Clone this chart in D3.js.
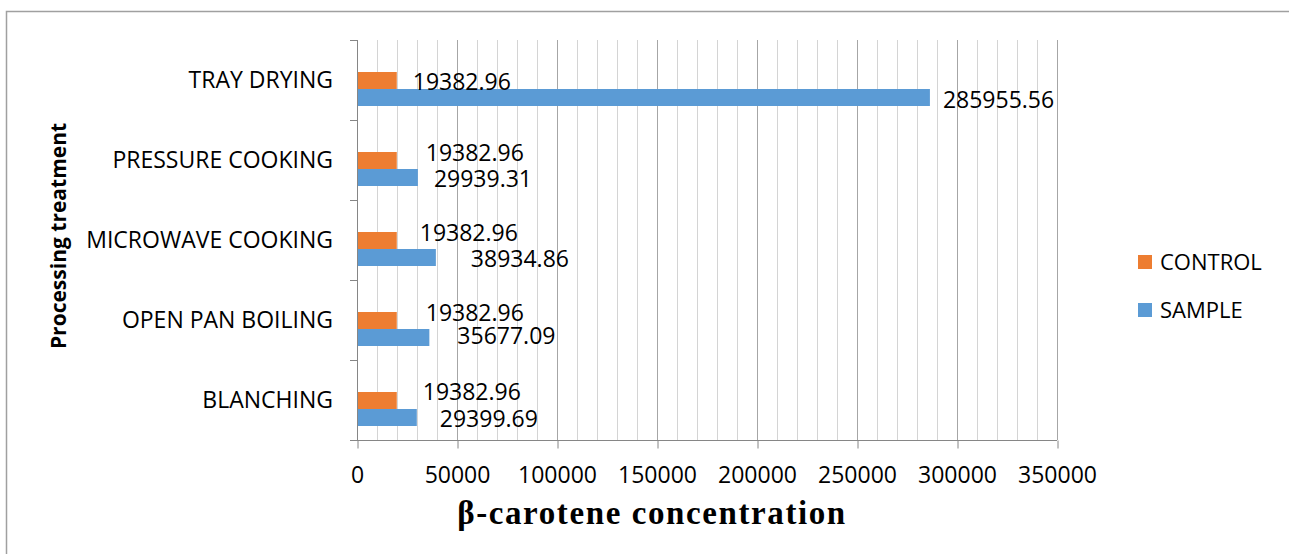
<!DOCTYPE html>
<html>
<head>
<meta charset="utf-8">
<script src="https://cdn.jsdelivr.net/npm/d3@7"></script>
<style>
  body { margin: 0; background: #ffffff; }
  svg { display: block; }
</style>
</head>
<body>
<svg id="chart" width="1289" height="554"></svg>
<script>
// Beta-carotene content by processing treatment
const categories = ["TRAY DRYING", "PRESSURE COOKING", "MICROWAVE COOKING", "OPEN PAN BOILING", "BLANCHING"];
const seriesNames = ["CONTROL", "SAMPLE"];
const controlValues = [19382.96, 19382.96, 19382.96, 19382.96, 19382.96];
const sampleValues = [285955.56, 29939.31, 38934.86, 35677.09, 29399.69];
const xTickValues = [0, 50000, 100000, 150000, 200000, 250000, 300000, 350000];

// hand-placed data label nudges (px from bar end / bar centre)
const controlLabelNudge = [[17, 1.5], [30, -7.5], [24, -7.5], [30, -7.5], [27, -8.5]];
const sampleLabelNudge = [[14, 2], [17, 1], [36, 1], [29, -2], [24, 1]];

const colors = { CONTROL: "#ED7D31", SAMPLE: "#5B9BD5" };
const labelFont = "'Open Sans', 'DejaVu Sans', sans-serif";

const svg = d3.select("#chart");

// outer chart frame
svg.append("rect")
  .attr("x", 6.5).attr("y", 11.5)
  .attr("width", 1300).attr("height", 600)
  .attr("fill", "none").attr("stroke", "#a0a0a0").attr("stroke-width", 1.5);

const x = d3.scaleLinear().domain([0, 350000]).range([357, 1057]);
const y = d3.scaleBand().domain(categories).range([40, 440]);
const bw = y.bandwidth();
const sub = d3.scaleBand().domain(seriesNames).range([bw * 0.4, bw * 0.825]);

// vertical gridlines: minor every 10000, major every 50000
const gridVals = x.ticks(35).filter(v => v > 0);
svg.append("g").selectAll("line")
  .data(gridVals)
  .join("line")
  .attr("x1", d => x(d) + 0.5).attr("x2", d => x(d) + 0.5)
  .attr("y1", 40).attr("y2", 440)
  .attr("stroke", d => d % 50000 === 0 ? "#a6a6a6" : "#d4d4d4")
  .attr("stroke-width", 1);

// bars
const rows = categories.map((c, i) => ({
  cat: c, i,
  values: [
    { key: "CONTROL", value: controlValues[i], nudge: controlLabelNudge[i] },
    { key: "SAMPLE", value: sampleValues[i], nudge: sampleLabelNudge[i] }
  ]
}));

const groups = svg.append("g").selectAll("g")
  .data(rows)
  .join("g")
  .attr("transform", d => `translate(0,${y(d.cat)})`);

groups.selectAll("rect")
  .data(d => d.values)
  .join("rect")
  .attr("x", x(0) + 1)
  .attr("y", d => sub(d.key))
  .attr("width", d => x(d.value) - x(0))
  .attr("height", sub.bandwidth())
  .attr("fill", d => colors[d.key]);

groups.selectAll("text")
  .data(d => d.values)
  .join("text")
  .attr("x", d => x(d.value) + d.nudge[0])
  .attr("y", d => sub(d.key) + sub.bandwidth() / 2 + d.nudge[1])
  .attr("dy", "0.36em")
  .attr("font-family", labelFont)
  .attr("font-size", 23)
  .attr("fill", "#000")
  .text(d => d.value.toFixed(2));

// x axis
const xAxis = svg.append("g")
  .attr("transform", "translate(0,440.5)")
  .call(d3.axisBottom(x).tickValues(xTickValues).tickSize(8).tickPadding(18).tickFormat(d3.format("d")));
xAxis.select(".domain").remove();
xAxis.selectAll(".tick line").attr("stroke", "#868686").attr("transform", "translate(0.5,0)");
xAxis.selectAll(".tick text")
  .attr("font-family", labelFont).attr("font-size", 23).attr("fill", "#000");
svg.append("line")
  .attr("x1", 350).attr("x2", 1057).attr("y1", 440.5).attr("y2", 440.5)
  .attr("stroke", "#868686");

// y axis with ticks at category boundaries
svg.append("line")
  .attr("x1", 357.5).attr("x2", 357.5).attr("y1", 40).attr("y2", 440)
  .attr("stroke", "#868686");
const bounds = categories.map(c => y(c)).concat([y.range()[1]]);
svg.append("g").selectAll("line")
  .data(bounds)
  .join("line")
  .attr("x1", 350).attr("x2", 357)
  .attr("y1", d => d + 0.5).attr("y2", d => d + 0.5)
  .attr("stroke", "#868686");

svg.append("g").selectAll("text")
  .data(categories)
  .join("text")
  .attr("x", 333)
  .attr("y", d => y(d) + bw / 2)
  .attr("dy", "0.36em")
  .attr("text-anchor", "end")
  .attr("font-family", labelFont)
  .attr("font-size", 23)
  .attr("fill", "#000")
  .text(d => d);

// axis titles
svg.append("text")
  .attr("x", 652).attr("y", 524)
  .attr("text-anchor", "middle")
  .attr("font-family", "'Liberation Serif', 'Times New Roman', serif")
  .attr("font-weight", "bold")
  .attr("font-size", 33)
  .attr("letter-spacing", 1.6)
  .attr("fill", "#000")
  .text("β-carotene concentration");

svg.append("text")
  .attr("transform", "translate(66,236) rotate(-90)")
  .attr("text-anchor", "middle")
  .attr("font-family", labelFont)
  .attr("font-weight", "bold")
  .attr("font-size", 21)
  .attr("fill", "#000")
  .text("Processing treatment");

// legend
const legend = svg.append("g").selectAll("g")
  .data(seriesNames)
  .join("g")
  .attr("transform", (d, i) => `translate(1138,${255 + i * 48})`);
legend.append("rect")
  .attr("width", 14).attr("height", 14)
  .attr("fill", d => colors[d]);
legend.append("text")
  .attr("x", 22).attr("y", 7).attr("dy", "0.36em")
  .attr("font-family", labelFont)
  .attr("font-size", 22)
  .attr("fill", "#000")
  .text(d => d);
</script>
</body>
</html>
